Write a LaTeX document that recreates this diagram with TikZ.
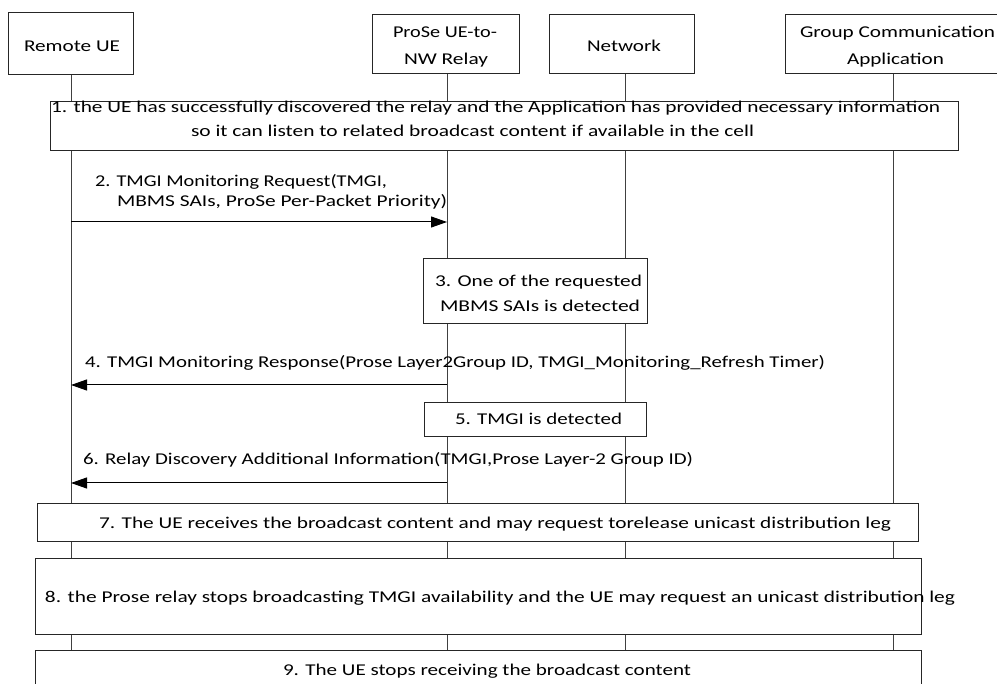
\documentclass[tikz,border=0pt]{standalone}
\usepackage{fontspec}
\setmainfont{Carlito}
\usepackage{graphicx}
\usetikzlibrary{arrows.meta}
\newcommand\fw[2]{\resizebox{#1pt}{\height}{#2}}
\begin{document}
\begin{tikzpicture}[x=1pt,y=-1pt,
  box/.style={draw=black!85, fill=white, line width=1pt, inner sep=0pt, outer sep=0pt},
  life/.style={draw=black!75, line width=1pt},
  msg/.style={draw=black, line width=1pt, -{Triangle[length=16pt,width=11pt]}},
  txt/.style={inner sep=0pt, outer sep=0pt, anchor=base west, font=\fontsize{16.5}{19}\selectfont}]
\clip (0,0) rectangle (997,684);
\fill[white] (0,0) rectangle (997,684);
% lifeline coordinates
\coordinate (l1t) at (71,75);  \coordinate (l1b) at (71,684);
\coordinate (l2t) at (447,74); \coordinate (l2b) at (447,684);
\coordinate (l3t) at (625,74); \coordinate (l3b) at (625,684);
\coordinate (l4t) at (893,74); \coordinate (l4b) at (893,684);
\draw[life] (l1t) -- (l1b);
\draw[life] (l2t) -- (l2b);
\draw[life] (l3t) -- (l3b);
\draw[life] (l4t) -- (l4b);
% header boxes
\node[box, minimum width=125pt, minimum height=62pt] (h1) at (70.5,44) {};
\node[box, minimum width=147pt, minimum height=59pt] (h2) at (445.5,44.5) {};
\node[box, minimum width=145pt, minimum height=59pt] (h3) at (621.5,44.5) {};
\node[box, minimum width=220pt, minimum height=59pt] (h4) at (895,44.5) {};
% step boxes
\node[box, minimum width=908pt, minimum height=49pt] (b1) at (504,126.5) {};
\node[box, minimum width=224pt, minimum height=65pt] (b3) at (535,291.5) {};
\node[box, minimum width=222pt, minimum height=34pt] (b5) at (535,420) {};
\node[box, minimum width=881pt, minimum height=38pt] (b7) at (477.5,523) {};
\node[box, minimum width=886pt, minimum height=75pt] (b8) at (478,596.5) {};
\node[box, minimum width=886pt, minimum height=60pt] (b9) at (478,680) {};
% messages
\coordinate (m2s) at (71,222);  \coordinate (m2e) at (447,222);
\coordinate (m4s) at (447,385); \coordinate (m4e) at (71,385);
\coordinate (m6s) at (447,483); \coordinate (m6e) at (71,483);
\draw[msg] (m2s) -- (m2e);
\draw[msg] (m4s) -- (m4e);
\draw[msg] (m6s) -- (m6e);
% texts
\node[txt] (t1) at (24,52) {\fw{96}{Remote UE}};
\node[txt] (t2a) at (393,38) {\fw{104}{ProSe UE-to-}};
\node[txt] (t2b) at (404,65) {\fw{84}{NW Relay}};
\node[txt] (t3) at (587,52) {\fw{74}{Network}};
\node[txt] (t4a) at (800,38) {\fw{195}{Group Communication}};
\node[txt] (t4b) at (847,65) {\fw{97}{Application}};
\node[txt] (tb1a) at (51,113) {\fw{889}{1. the UE has successfully discovered the relay and the Application has provided necessary information}};
\node[txt] (tb1b) at (191,137) {\fw{563}{so it can listen to related broadcast content if available in the cell}};
\node[txt] (tm2a) at (95,187) {\fw{292}{2. TMGI Monitoring Request(TMGI,}};
\node[txt] (tm2b) at (117,207) {\fw{330}{MBMS SAIs, ProSe Per-Packet Priority)}};
\node[txt] (tb3a) at (435,287) {\fw{207}{3. One of the requested}};
\node[txt] (tb3b) at (440,312) {\fw{200}{MBMS SAIs is detected}};
\node[txt] (tm4) at (85,368) {\fw{740}{4. TMGI Monitoring Response(Prose Layer2Group ID, TMGI\_Monitoring\_Refresh Timer)}};
\node[txt] (tb5) at (455,425) {\fw{167}{5. TMGI is detected}};
\node[txt] (tm6) at (83,465) {\fw{610}{6. Relay Discovery Additional Information(TMGI,Prose Layer-2 Group ID)}};
\node[txt] (tb7) at (99,529) {\fw{792}{7. The UE receives the broadcast content and may request torelease unicast distribution leg}};
\node[txt] (tb8) at (45,603) {\fw{910}{8. the Prose relay stops broadcasting TMGI availability and the UE may request an unicast distribution leg}};
\node[txt] (tb9) at (283,675) {\fw{408}{9. The UE stops receiving the broadcast content}};
\end{tikzpicture}
\end{document}
